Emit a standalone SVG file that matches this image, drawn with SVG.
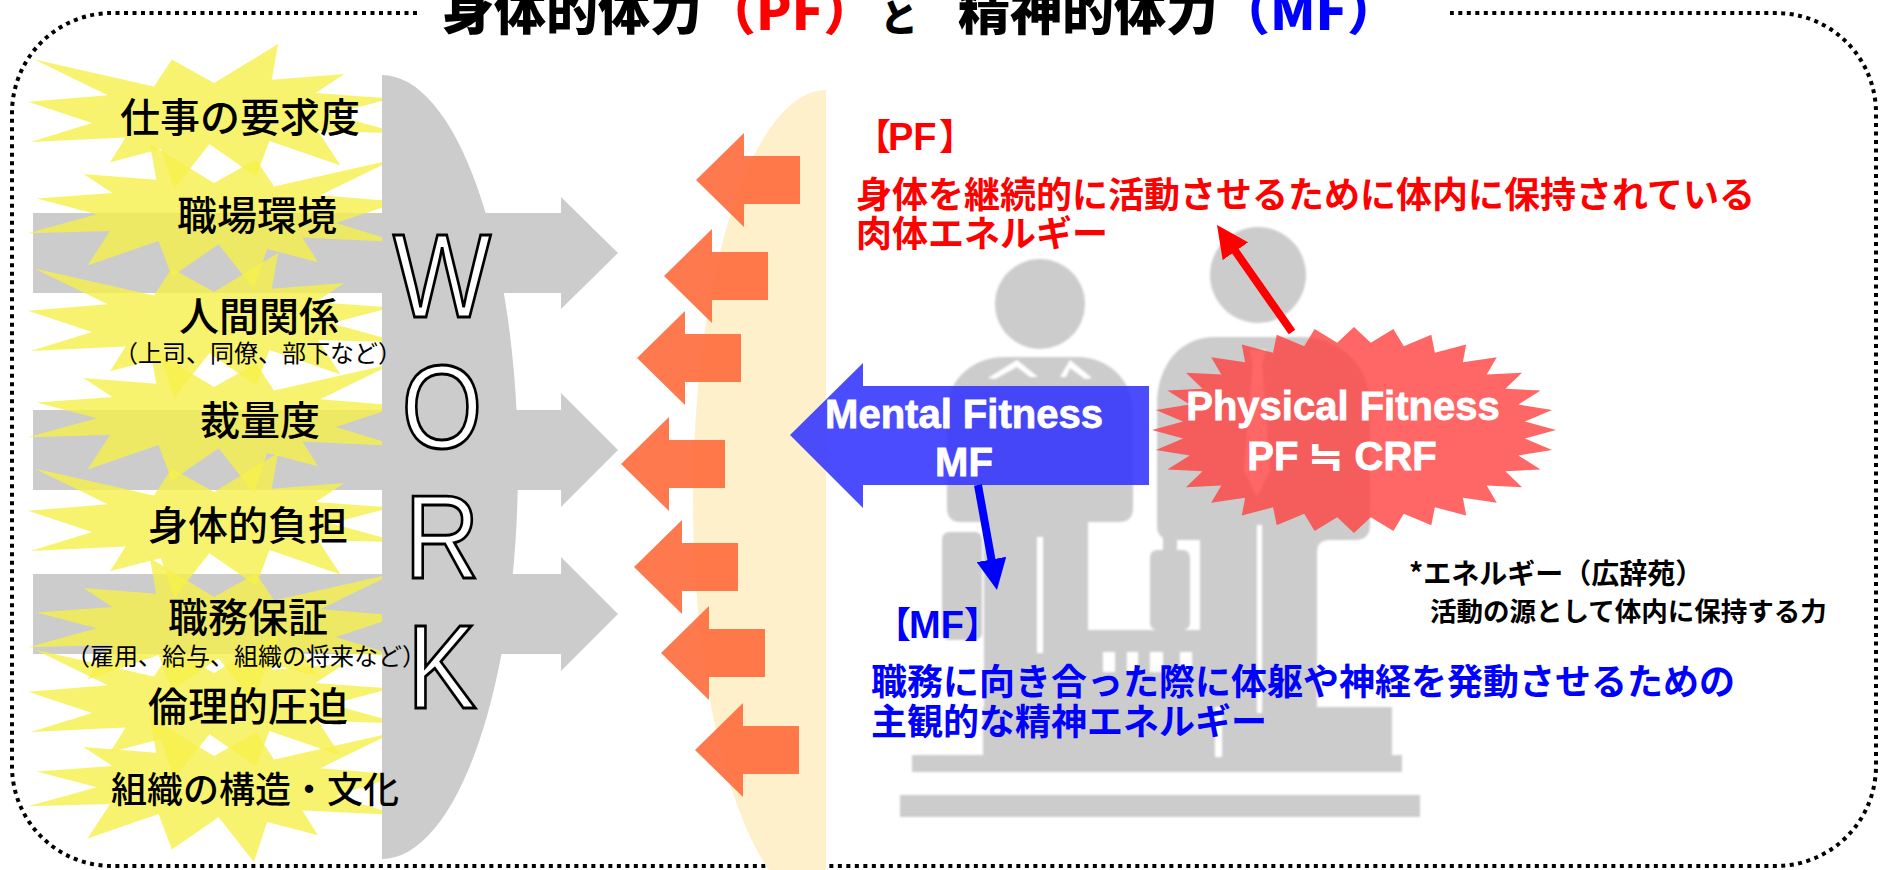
<svg xmlns="http://www.w3.org/2000/svg" xmlns:xlink="http://www.w3.org/1999/xlink" width="1881" height="870" viewBox="0 0 1881 870">
  <style>
    .jp { font-family: 'Noto Sans CJK JP', 'Noto Sans', sans-serif; }
    .lbl { font-size: 40px; font-weight: 500; fill: #000; text-anchor: middle; }
    .sub { font-size: 24px; font-weight: 400; fill: #000; text-anchor: middle; }
    .work { font-family: 'Liberation Sans', Arial, sans-serif; font-size: 118px; fill: #fff; stroke: #000; stroke-width: 3; text-anchor: middle; }
    .fit { font-family: 'Liberation Sans', Arial, 'Noto Sans CJK JP', sans-serif; font-weight: bold; font-size: 40px; fill: #fff; stroke: #fff; stroke-width: 0.8; text-anchor: middle; }
    .lat { font-family: 'Liberation Sans', Arial, sans-serif; font-weight: bold; font-size: 38px; }
    .jb { font-weight: bold; font-size: 36px; }
    .title { font-weight: 900; font-size: 52px; }
    .red { fill: #ff0000; }
    .blue { fill: #0000ff; }
    .blk { fill: #000; }
    .gray { fill: #cccccc; }
    .burst { fill: #f6f04a; fill-opacity: 0.8; }
    .oarrow { fill: #ff6a3c; fill-opacity: 0.9; }
    .cut { fill: #fff; }
  </style>
  <defs>
    <!-- explosion outline in a 100x100 box -->
    <path id="boom" d="M50,26.85 L67.23,0 L65.53,24.65 L85.09,20.63 L77.32,33.86 L97.67,37.67 L81.51,48.5 L100,61.53 L77.95,59.92 L84,83.77 L64.91,66.93 L61.33,91.37 L48.76,69.14 L39.28,100 L35.72,72.35 L22.05,81.56 L26.24,64.52 L0.63,67.53 L17.23,54.51 L0,39.88 L21.42,35.26 L1.71,10.63 L33.85,29.26 L38.67,10.63 Z"/>
    <!-- left-pointing block arrow, tip at origin -->
    <path id="larrow" d="M0,0 L48,-47 L48,-24 L104,-24 L104,24 L48,24 L48,47 Z"/>
    <marker id="headRed" markerUnits="userSpaceOnUse" markerWidth="32" markerHeight="31" refX="12" refY="15.5" orient="auto">
      <path d="M0,0 L32,15.5 L0,31 Z" fill="#ff0000"/>
    </marker>
    <marker id="headBlue" markerUnits="userSpaceOnUse" markerWidth="31" markerHeight="30" refX="11" refY="15" orient="auto">
      <path d="M0,0 L31,15 L0,30 Z" fill="#0000ff"/>
    </marker>
    <filter id="soft" x="-5%" y="-5%" width="110%" height="110%">
      <feGaussianBlur stdDeviation="0.8"/>
    </filter>
  </defs>

  <rect width="1881" height="870" fill="#fff"/>

  <!-- dotted frame, open at the title -->
  <path id="frame" d="M417,13 L112,13 A100,100 0 0 0 12,113 L12,766 A100,100 0 0 0 112,866 L1776,866 A100,100 0 0 0 1876,766 L1876,113 A100,100 0 0 0 1776,13 L1450,13" fill="none" stroke="#000" stroke-width="4" stroke-dasharray="4 4.5"/>

  <!-- grey arrows pushing right -->
  <g id="work-arrows" class="gray">
    <path d="M33,213 L561,213 L561,197 L618,253 L561,309 L561,293 L33,293 Z"/>
    <path d="M33,410 L561,410 L561,393 L618,450 L561,507 L561,490 L33,490 Z"/>
    <path d="M33,574 L561,574 L561,557 L618,614 L561,671 L561,654 L33,654 Z"/>
  </g>

  <!-- yellow bursts behind the stress factors -->
  <g id="bursts" class="burst">
    <use xlink:href="#boom" transform="translate(28 44) scale(3.72 1.45)"/>
    <use xlink:href="#boom" transform="translate(400 144) scale(-3.72 1.45)"/>
    <use xlink:href="#boom" transform="translate(28 253) scale(3.72 1.45)"/>
    <use xlink:href="#boom" transform="translate(400 348) scale(-3.72 1.45)"/>
    <use xlink:href="#boom" transform="translate(28 453) scale(3.72 1.45)"/>
    <use xlink:href="#boom" transform="translate(400 558) scale(-3.72 1.45)"/>
    <use xlink:href="#boom" transform="translate(28 634) scale(3.72 1.45)"/>
    <use xlink:href="#boom" transform="translate(400 717) scale(-3.72 1.45)"/>
  </g>

  <!-- WORK half-lens -->
  <g id="work">
    <path class="gray" d="M382,75 A136,392 0 0 1 382,859 Z"/>
  </g>

  <!-- stress factor labels -->
  <g id="factors" class="jp">
    <g id="f1"><text class="lbl" x="240" y="132">仕事の要求度</text></g>
    <g id="f2"><text class="lbl" x="257" y="230">職場環境</text></g>
    <g id="f3">
      <text class="lbl" x="259" y="331">人間関係</text>
      <text class="sub" x="258" y="362">（上司、同僚、部下など）</text>
    </g>
    <g id="f4"><text class="lbl" x="260" y="435">裁量度</text></g>
    <g id="f5"><text class="lbl" x="248" y="540">身体的負担</text></g>
    <g id="f6">
      <text class="lbl" x="248" y="632">職務保証</text>
      <text class="sub" x="246" y="665">（雇用、給与、組織の将来など）</text>
    </g>
    <g id="f7"><text class="lbl" x="248" y="721">倫理的圧迫</text></g>
    <g id="f8"><text class="lbl" x="255" y="803" style="font-size:36px">組織の構造・文化</text></g>
  </g>

  <!-- WORK lettering -->
  <g id="work-letters" transform="translate(442 0) scale(0.88 1)">
    <text class="work" x="0" y="317">W</text>
    <text class="work" x="0" y="448">O</text>
    <text class="work" x="0" y="578">R</text>
    <text class="work" x="0" y="708">K</text>
  </g>

  <!-- cream barrier -->
  <g id="barrier">
    <path d="M826,90 A133,410 0 0 0 826,910 Z" fill="#fff0cc"/>
  </g>

  <!-- orange arrows pushing back -->
  <g id="push-back" class="oarrow">
    <use xlink:href="#larrow" transform="translate(696 180)"/>
    <use xlink:href="#larrow" transform="translate(664 276)"/>
    <use xlink:href="#larrow" transform="translate(637 358)"/>
    <use xlink:href="#larrow" transform="translate(621 464)"/>
    <use xlink:href="#larrow" transform="translate(634 567)"/>
    <use xlink:href="#larrow" transform="translate(661 653)"/>
    <use xlink:href="#larrow" transform="translate(695 750)"/>
  </g>

  <!-- two business people on a podium -->
  <g id="people" filter="url(#soft)">
    <g class="gray">
      <circle cx="1040" cy="304" r="45"/>
      <path d="M1005,357 L1077,357 C1108,357 1133,380 1133,412 L1133,508 Q1133,522 1119,522 L1088,522 L1088,707 L984,707 L984,522 L961,522 Q947,522 947,508 L947,412 C947,380 972,357 1005,357 Z"/>
      <rect x="942" y="532" width="40" height="108" rx="7"/>
      <circle cx="1258" cy="275" r="48"/>
      <path d="M1215,337 L1300,337 C1340,337 1370,365 1370,405 L1370,525 Q1370,540 1355,540 L1330,540 Q1317,540 1317,552 L1317,707 L1200,707 L1200,540 L1172,540 Q1157,540 1157,525 L1157,405 C1157,365 1180,337 1215,337 Z"/>
      <rect x="1163" y="533" width="14" height="20"/>
      <rect x="1150" y="550" width="40" height="80" rx="7"/>
      <rect x="1088" y="630" width="112" height="80"/>
      <rect x="983" y="707" width="409" height="50"/>
      <rect x="912" y="755" width="490" height="17"/>
      <rect x="900" y="795" width="520" height="22"/>
    </g>
    <g class="cut">
      <path d="M988,378 L1017,360 L1038,377 L1030,377 L1017,367 L995,379 Z"/>
      <path d="M1060,377 L1070,360 L1092,378 L1085,379 L1070,368 L1066,377 Z"/>
      <path d="M1250,350 L1266,350 L1262,365 L1270,470 L1257,497 L1244,470 L1253,365 Z"/>
      <rect x="1037" y="537" width="6" height="116"/>
      <rect x="1257" y="525" width="5" height="188"/>
      <rect x="1215" y="707" width="7" height="50"/>
      <rect x="1103" y="652" width="12" height="20"/>
      <rect x="1127" y="652" width="11" height="20"/>
      <rect x="1150" y="652" width="13" height="20"/>
      <rect x="1180" y="652" width="12" height="20"/>
    </g>
  </g>

  <!-- Mental Fitness arrow -->
  <g id="mf-node">
    <path d="M790,435 L863,363 L863,386 L1149,386 L1149,485 L863,485 L863,508 Z" fill="#3333ff" fill-opacity="0.88"/>
    <text class="fit" x="964" y="428">Mental Fitness</text>
    <text class="fit" x="964" y="476">MF</text>
  </g>

  <!-- Physical Fitness seal -->
  <g id="pf-node">
    <path transform="translate(1354 430)" fill="#ff4040" fill-opacity="0.8" d="M202,0 L170.9,-8.6 L198.1,-20.1 L164.3,-25.4 L186.6,-39.4 L151.4,-41.3 L168,-57.2 L132.7,-55.6 L142.8,-72.8 L108.9,-67.7 L112.2,-85.6 L80.9,-77.3 L77.3,-95.2 L49.8,-83.8 L39.4,-101 L16.8,-87.2 L0,-103 L-16.8,-87.2 L-39.4,-101 L-49.8,-83.8 L-77.3,-95.2 L-80.9,-77.3 L-112.2,-85.6 L-108.9,-67.7 L-142.8,-72.8 L-132.7,-55.6 L-168,-57.2 L-151.4,-41.3 L-186.6,-39.4 L-164.3,-25.4 L-198.1,-20.1 L-170.9,-8.6 L-202,0 L-170.9,8.6 L-198.1,20.1 L-164.3,25.4 L-186.6,39.4 L-151.4,41.3 L-168,57.2 L-132.7,55.6 L-142.8,72.8 L-108.9,67.7 L-112.2,85.6 L-80.9,77.3 L-77.3,95.2 L-49.8,83.8 L-39.4,101 L-16.8,87.2 L0,103 L16.8,87.2 L39.4,101 L49.8,83.8 L77.3,95.2 L80.9,77.3 L112.2,85.6 L108.9,67.7 L142.8,72.8 L132.7,55.6 L168,57.2 L151.4,41.3 L186.6,39.4 L164.3,25.4 L198.1,20.1 L170.9,8.6 Z"/>
    <text class="fit" x="1343" y="420">Physical Fitness</text>
    <text class="fit" x="1342" y="470">PF ≒ CRF</text>
  </g>

  <!-- pointers from the two fitness shapes to their definitions -->
  <g id="connectors" fill="none" stroke-width="8">
    <line x1="1292" y1="332" x2="1228.5" y2="241.4" stroke="#ff0000" marker-end="url(#headRed)"/>
    <line x1="978" y1="485" x2="993.4" y2="570.3" stroke="#0000ff" marker-end="url(#headBlue)"/>
  </g>

  <!-- PF definition -->
  <g id="pf-text" class="jp jb red">
    <text x="855" y="150">【<tspan class="lat" x="888">PF</tspan><tspan x="939">】</tspan></text>
    <text x="856" y="208">身体を継続的に活動させるために体内に保持されている</text>
    <text x="856" y="247">肉体エネルギー</text>
  </g>

  <!-- MF definition -->
  <g id="mf-text" class="jp jb blue">
    <text x="875" y="638">【<tspan class="lat" x="909">MF</tspan><tspan x="964">】</tspan></text>
    <text x="871" y="695">職務に向き合った際に体躯や神経を発動させるための</text>
    <text x="871" y="735">主観的な精神エネルギー</text>
  </g>

  <!-- dictionary note -->
  <g id="note" class="jp blk" font-weight="bold">
    <text x="1409" y="584" font-size="28">*エネルギー（広辞苑）</text>
    <text x="1430" y="621" font-size="26.5">活動の源として体内に保持する力</text>
  </g>

  <!-- heading -->
  <g id="heading" class="jp title">
    <text x="442" y="30" class="blk">身体的体力</text>
    <text x="704" y="30" class="red">（PF）</text>
    <text x="880" y="31" class="blk" font-size="38">と</text>
    <text x="958" y="30" class="blk">精神的体力</text>
    <text x="1218" y="30" class="blue">（MF）</text>
  </g>
</svg>
